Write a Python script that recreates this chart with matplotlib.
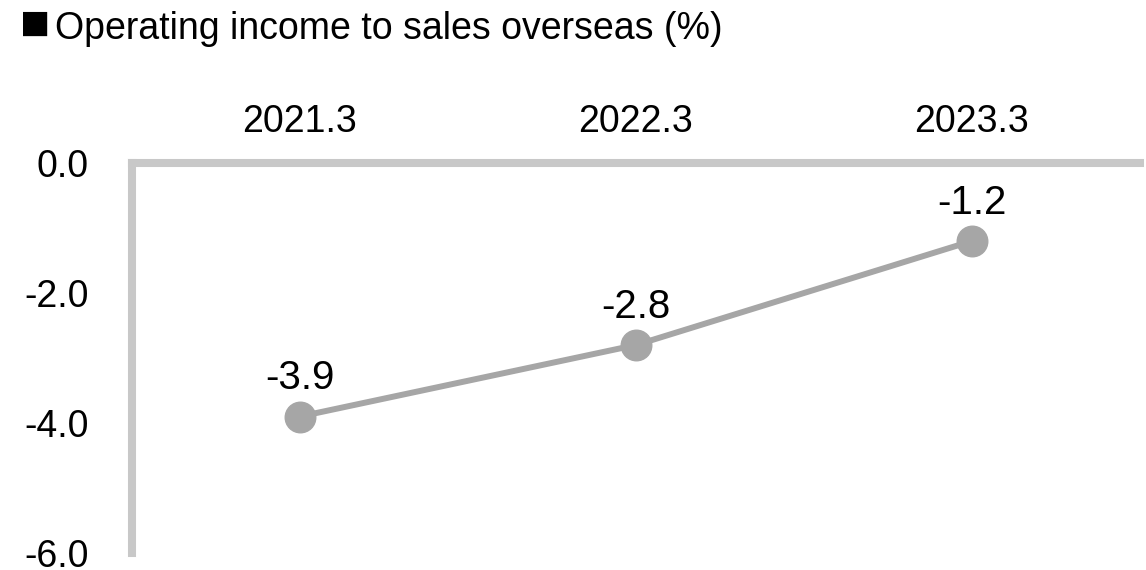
import matplotlib.pyplot as plt

plt.rcParams['font.family'] = ['Liberation Sans', 'DejaVu Sans']

periods = ['2021.3', '2022.3', '2023.3']
margin = [-3.9, -2.8, -1.2]
y_ticks = [0.0, -2.0, -4.0, -6.0]

W, H = 1146, 570
fig = plt.figure(figsize=(W / 100, H / 100), dpi=100)
ax = fig.add_axes([132 / W, 17 / H, 1008 / W, (553 - 163) / H])

x = [i + 0.5 for i in range(len(periods))]
ax.plot(x, margin, color='#a6a6a6', linewidth=4.3, marker='o',
        markersize=22, markerfacecolor='#a6a6a6', markeredgecolor='#a6a6a6',
        solid_capstyle='round', clip_on=False, zorder=3)

# value labels above each point
for xi, v in zip(x, margin):
    ax.annotate(f'{v:.1f}', (xi, v), xytext=(0, 19.5), textcoords='offset points',
                ha='center', va='baseline', fontsize=29)

ax.set_xlim(0, 3)
ax.set_ylim(-6, 0)
ax.set_xticks(x)
ax.set_xticklabels(periods)
ax.xaxis.tick_top()
ax.set_yticks(y_ticks)
ax.set_yticklabels([f'{t:.1f}' for t in y_ticks])
ax.tick_params(axis='both', length=0, labelsize=27)
ax.tick_params(axis='x', pad=16.5)
ax.tick_params(axis='y', pad=31)

for side in ['right', 'bottom']:
    ax.spines[side].set_visible(False)
for side in ['left', 'top']:
    ax.spines[side].set_color('#c8c8c8')
    ax.spines[side].set_linewidth(5.8)

fig.text(20 / W, 1 - 39 / H, '■', fontsize=36, ha='left', va='baseline')
fig.text(55 / W, 1 - 39 / H, 'Operating income to sales overseas (%)',
         fontsize=27, ha='left', va='baseline')

fig.savefig('out.png', dpi=100)
